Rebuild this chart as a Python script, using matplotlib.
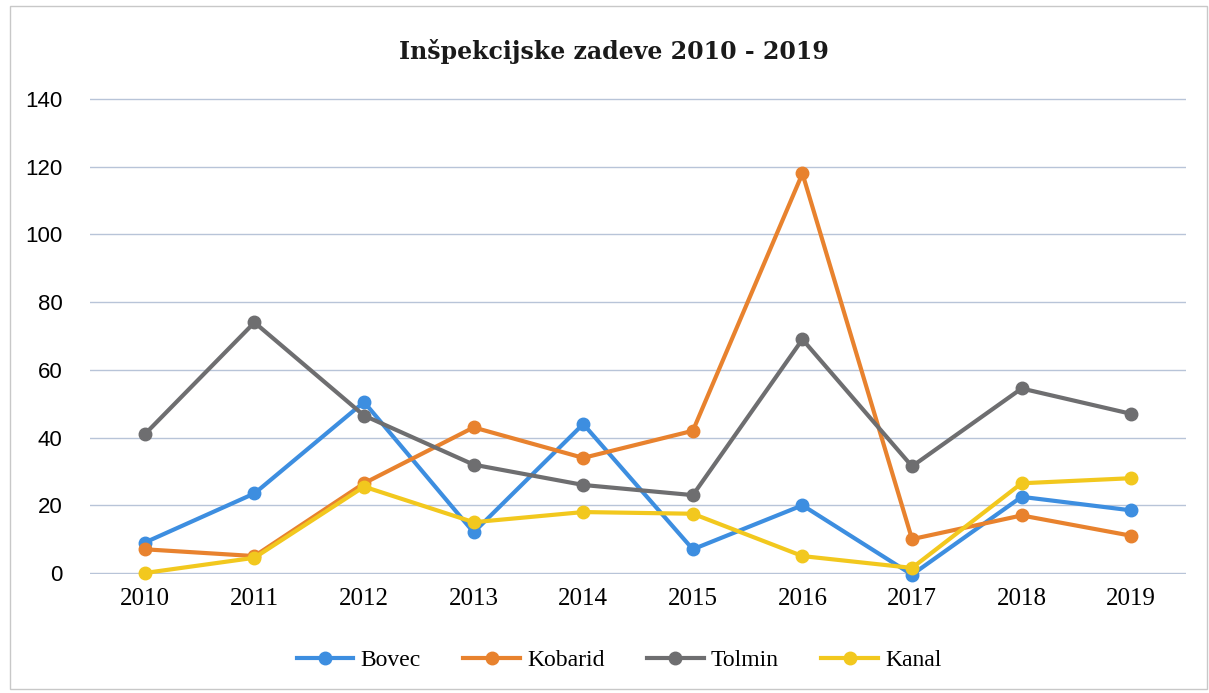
import numpy as np
import matplotlib.pyplot as plt
from matplotlib.patches import Rectangle

years = ['2010', '2011', '2012', '2013', '2014', '2015', '2016', '2017', '2018', '2019']
bovec = [9, 23.5, 50.5, 12, 44, 7, 20, -0.5, 22.5, 18.5]
kobarid = [7, 5, 26.5, 43, 34, 42, 118, 10, 17, 11]
tolmin = [41, 74, 46.5, 32, 26, 23, 69, 31.5, 54.5, 47]
kanal = [0, 4.5, 25.5, 15, 18, 17.5, 5, 1.5, 26.5, 28]

series = [('Bovec', bovec, '#3d8ee0'),
          ('Kobarid', kobarid, '#e8822e'),
          ('Tolmin', tolmin, '#6e6e70'),
          ('Kanal', kanal, '#f2c81e')]

fig = plt.figure(figsize=(12.09, 6.93), dpi=100)
ax = fig.add_axes([0.0745, 0.1717, 0.9065, 0.6869])

x = np.arange(len(years))
for name, vals, col in series:
    ax.plot(x, vals, color=col, lw=3, marker='o', markersize=9,
            label=name, clip_on=False, zorder=3)

ax.set_xlim(-0.5, len(years) - 0.5)
ax.set_ylim(-0.3, 140.3)
ax.set_yticks(np.arange(0, 141, 20))
ax.set_xticks(x)
ax.set_xticklabels(years, family='Liberation Serif', fontsize=18)
for lab in ax.get_yticklabels():
    lab.set_family('Liberation Sans')
    lab.set_fontsize(16)
ax.tick_params(length=0, pad=10)
ax.tick_params(axis='y', pad=20)
ax.grid(axis='y', color='#b8c4d8', lw=1)
ax.set_axisbelow(True)
for s in ax.spines.values():
    s.set_visible(False)

fig.text(0.508, 0.925, 'Inšpekcijske zadeve 2010 - 2019', ha='center', va='center',
         family='DejaVu Serif', fontweight='bold', fontsize=17, color='#1a1a1a')

fig.legend(loc='center', bbox_to_anchor=(0.512, 0.047), ncol=4, frameon=False,
           prop={'family': 'Liberation Serif', 'size': 17}, handlelength=2.4,
           columnspacing=1.8, handletextpad=0.3)

fig.patches.append(Rectangle((0.008, 0.006), 0.99, 0.985, transform=fig.transFigure,
                             fill=False, edgecolor='#c8c8c8', lw=1))

fig.savefig('out.png', dpi=100)
